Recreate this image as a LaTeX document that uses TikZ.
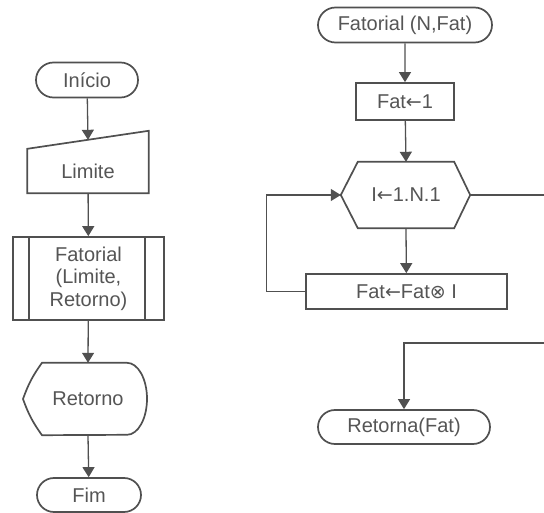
\documentclass[tikz,border=0pt]{standalone}
\usepackage{fontspec}
\setmainfont{Liberation Sans}
\newfontfamily\symfont{DejaVu Sans}
\usepackage{xcolor}
\usepackage{tikz}
\usetikzlibrary{shapes.misc,arrows.meta,calc}
\definecolor{fcLine}{RGB}{80,80,80}
\definecolor{fcText}{RGB}{85,85,85}
\newcommand{\lar}{{\symfont\fontsize{19}{22}\selectfont ←}}
\newcommand{\otm}{{\symfont\fontsize{19}{22}\selectfont ⊗}}

\tikzset{
  box/.style={draw=fcLine, line width=1.7pt, text=fcText, font=\fontsize{20}{22.5}\selectfont},
  plain/.style={text=fcText, font=\fontsize{20}{22.5}\selectfont, inner sep=0pt},
  term/.style={box, rounded rectangle, inner sep=0pt},
  flow/.style={draw=fcLine, line width=1.3pt, -{Triangle[length=10pt,width=12pt]}},
  wire/.style={draw=fcLine, line width=1.3pt}
}

\begin{document}
\begin{tikzpicture}[x=1pt, y=1pt]
  \useasboundingbox[fill=white] (0,0) rectangle (544,-513);

  % main program
  \node[term, minimum width=102pt, minimum height=35pt] (ini) at (87,-80) {Início};
  \node[plain, minimum width=121pt, minimum height=44pt] (lim) at (88,-171) {Limite};
  \draw[box] (lim.south west) -- (lim.south east) -- ([yshift=18pt]lim.north east) -- (lim.north west) -- cycle;
  \coordinate (limtop) at ($(lim.north west)!0.5!([yshift=18pt]lim.north east)$);
  \node[box, minimum width=151pt, minimum height=83pt, align=center, inner sep=0pt] (fat) at (88.5,-278.5) {Fatorial\\(Limite,\\Retorno)};
  \draw[box] ([xshift=17pt]fat.north west) -- ([xshift=17pt]fat.south west);
  \draw[box] ([xshift=-20pt]fat.north east) -- ([xshift=-20pt]fat.south east);
  \node[plain, minimum width=78pt, minimum height=72pt] (ret) at (88,-399) {Retorno};
  \draw[box] ([xshift=-46pt]ret.north) -- ([xshift=39pt]ret.north)
    arc[start angle=90, end angle=-90, x radius=20pt, y radius=36pt]
    -- ([xshift=-46pt]ret.south) to[bend left=8] ([xshift=-65pt]ret.center) to[bend left=8] cycle;
  \node[term, minimum width=104pt, minimum height=34pt] (fim) at (89,-495) {Fim};

  \draw[flow] (ini) -- (limtop);
  \draw[flow] (lim) -- (fat);
  \draw[flow] (fat) -- (ret.north);
  \draw[flow] (ret.south) -- (fim);

  % sub-routine
  \node[term, minimum width=174pt, minimum height=35pt] (fun) at (405,-25) {Fatorial (N,Fat)};
  \node[box, minimum width=98pt, minimum height=37pt] (init) at (405,-101.5) {Fat\lar1};
  \node[plain, minimum width=96pt, minimum height=66pt] (hex) at (406,-195) {I\lar1.N.1};
  \coordinate (hexw) at ([xshift=-17pt]hex.west);
  \coordinate (hexe) at ([xshift=16pt]hex.east);
  \draw[box] (hexw) -- (hex.north west) -- (hex.north east) -- (hexe) -- (hex.south east) -- (hex.south west) -- cycle;
  \node[box, minimum width=201pt, minimum height=35pt] (body) at (406.5,-291.5) {Fat\lar Fat\otm\ I};
  \node[term, minimum width=172pt, minimum height=34pt] (rtn) at (404,-427) {Retorna(Fat)};
  \coordinate (exitA) at (544,-195);
  \coordinate (exitB) at (544,-343);

  \draw[flow] (fun) -- (init);
  \draw[flow] (init) -- (hex.north);
  \draw[flow] (hex.south) -- (body);
  \draw[flow] (body.west) -- ++(-39,0) |- (hexw);
  \draw[wire] (hexe) -- (exitA);
  \draw[flow] (exitB) -| (rtn.north);
\end{tikzpicture}
\end{document}
